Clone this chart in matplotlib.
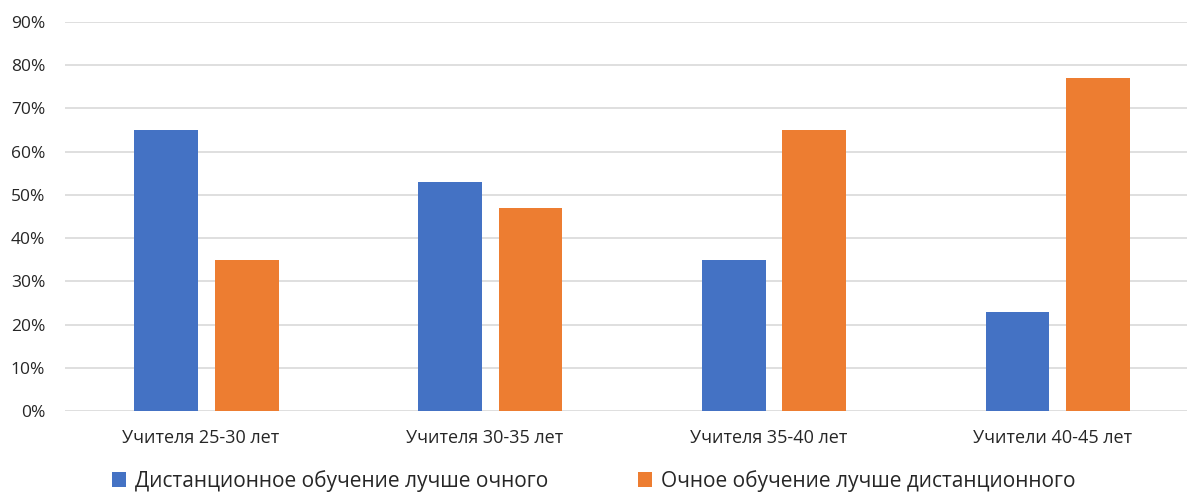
import matplotlib.pyplot as plt
import numpy as np
from matplotlib.ticker import PercentFormatter

plt.rcParams['font.family'] = ['Open Sans', 'DejaVu Sans']

groups = ['Учителя 25-30 лет', 'Учителя 30-35 лет', 'Учителя 35-40 лет', 'Учители 40-45 лет']
distance_better = [65, 53, 35, 23]
inperson_better = [35, 47, 65, 77]
series_names = ['Дистанционное обучение лучше очного', 'Очное обучение лучше дистанционного']

fig = plt.figure(figsize=(11.87, 4.95), dpi=100)
ax = fig.add_axes([0.0544, 0.1697, 0.9563, 0.7859])

x = np.arange(len(groups))
w = 0.225
ax.bar(x - 0.142, np.array(distance_better) / 100, w, color='#4472C4', label=series_names[0], zorder=3)
ax.bar(x + 0.142, np.array(inperson_better) / 100, w, color='#ED7D31', label=series_names[1], zorder=3)

ax.set_xlim(-0.5, 3.5)
ax.set_ylim(0, 0.9)
ax.set_yticks(np.arange(0, 0.91, 0.1))
ax.yaxis.set_major_formatter(PercentFormatter(1.0, decimals=0))
# category labels sit a touch left of the group centre
ax.set_xticks(x - 0.02)
ax.set_xticklabels(groups)
ax.tick_params(axis='y', length=0, pad=14, labelsize=12.5, labelcolor='#262626')
ax.tick_params(axis='x', length=0, pad=13, labelsize=13, labelcolor='#262626')
ax.grid(axis='y', color='#D9D9D9', linewidth=1.2, zorder=0)
for s in ax.spines.values():
    s.set_visible(False)

fig.legend(loc='center', bbox_to_anchor=(0.5, 0.028), ncol=2, frameon=False,
           fontsize=15, handlelength=0.7, handleheight=0.7, handletextpad=0.4,
           columnspacing=4.3, labelcolor='#262626')

fig.savefig('out.png', dpi=100)
